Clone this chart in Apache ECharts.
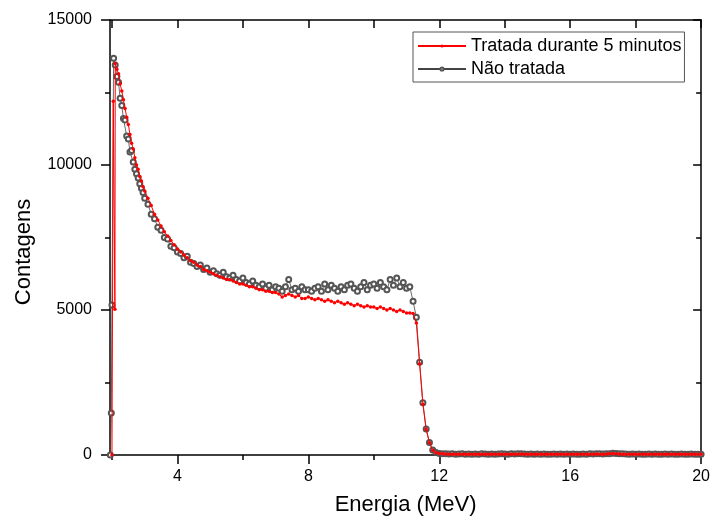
<!DOCTYPE html>
<html><head><meta charset="utf-8">
<script src="https://cdn.jsdelivr.net/npm/echarts@6/dist/echarts.min.js"></script>
<style>html,body{margin:0;padding:0;background:#fff}#c{width:713px;height:525px}</style>
</head><body><div id="c"></div>
<script>
const seriesNames = ['Tratada durante 5 minutos', 'Não tratada'];
const xAxisTitle = 'Energia (MeV)';
const yAxisTitle = 'Contagens';
const xTickLabels = [4, 8, 12, 16, 20];
const xMinorTicks = [2, 6, 10, 14, 18];
const xTopTicks = [2, 4, 6, 8, 10, 12, 14, 16, 18, 20];

// leading edge of each spectrum
const riseEnergyTreated = [2.00, 2.04, 2.09];
const riseCountsTreated = [0, 12200, 5030];
const riseEnergyUntreated = [1.95, 1.98, 2.00, 2.05];
const riseCountsUntreated = [0, 1450, 5170, 13680];

// shared energy grid (MeV)
const energy = [
 2.10,2.15,2.20,2.25,2.30,2.35,2.40,2.45,2.50,2.55,2.60,2.65,2.70,2.75,2.80,2.85,2.90,2.95,3.00,
 3.1,3.2,3.3,3.4,3.5,3.6,3.7,3.8,3.9,
 4.0,4.1,4.2,4.3,4.4,4.5,4.6,4.7,4.8,4.9,
 5.0,5.1,5.2,5.3,5.4,5.5,5.6,5.7,5.8,5.9,
 6.0,6.1,6.2,6.3,6.4,6.5,6.6,6.7,6.8,6.9,
 7.0,7.1,7.2,7.3,7.4,7.5,7.6,7.7,7.8,7.9,
 8.0,8.1,8.2,8.3,8.4,8.5,8.6,8.7,8.8,8.9,
 9.0,9.1,9.2,9.3,9.4,9.5,9.6,9.7,9.8,9.9,
 10.0,10.1,10.2,10.3,10.4,10.5,10.6,10.7,10.8,10.9,
 11.0,11.1,11.2,11.3,11.4,11.5,11.6,11.7,11.8,11.9,
 12.0,12.1,12.2,12.3,12.4,12.5,12.6,12.7,12.8,12.9,
 13.0,13.1,13.2,13.3,13.4,13.5,13.6,13.7,13.8,13.9,
 14.0,14.1,14.2,14.3,14.4,14.5,14.6,14.7,14.8,14.9,
 15.0,15.1,15.2,15.3,15.4,15.5,15.6,15.7,15.8,15.9,
 16.0,16.1,16.2,16.3,16.4,16.5,16.6,16.7,16.8,16.9,
 17.0,17.1,17.2,17.3,17.4,17.5,17.6,17.7,17.8,17.9,
 18.0,18.1,18.2,18.3,18.4,18.5,18.6,18.7,18.8,18.9,
 19.0,19.1,19.2,19.3,19.4,19.5,19.6,19.7,19.8,19.9,20.0
];

const treated = [
 13500,13300,13150,12800,12550,12250,11950,11650,11400,11050,10750,10550,10250,10000,9850,9600,9450,9250,9100,
 8850,8600,8300,8100,7900,7700,7550,7400,7250,
 7100,7000,6900,6800,6700,6650,6550,6500,6400,6350,
 6300,6250,6200,6150,6100,6050,6050,6000,5950,5900,
 5900,5850,5800,5800,5750,5700,5700,5650,5650,5600,
 5600,5550,5450,5500,5550,5500,5450,5500,5400,5400,
 5450,5400,5350,5400,5350,5300,5350,5300,5250,5300,
 5250,5200,5250,5200,5150,5200,5150,5100,5150,5100,
 5100,5050,5100,5050,5000,5050,5000,4950,5000,4950,
 4900,4900,4880,4550,3150,1750,880,420,160,80,
 50,40,35,30,30,25,30,25,30,25,
 25,30,25,30,25,30,25,25,30,25,
 30,25,30,25,30,35,30,25,30,25,
 25,30,25,25,30,25,30,25,25,30,
 25,30,25,25,30,25,30,30,35,30,
 30,35,40,50,45,35,30,30,25,30,
 25,30,25,25,30,25,30,25,25,30,
 25,30,25,25,30,25,25,30,25,25,25
];

const untreated = [
 13450,13050,12850,12300,12050,11600,11550,11000,10900,10450,10500,10100,9850,9700,9550,9350,9200,9050,8850,
 8650,8300,8150,7850,7750,7500,7450,7200,7150,
 7000,6950,6800,6850,6650,6600,6500,6550,6400,6450,
 6300,6350,6250,6200,6300,6150,6100,6200,6050,6000,
 6100,5950,5900,6000,5850,5800,5900,5750,5850,5700,
 5800,5750,5650,5800,6050,5700,5750,5650,5800,5700,
 5700,5650,5750,5800,5650,5900,5700,5850,5750,5650,
 5800,5700,5850,5900,5750,5650,5800,5950,5700,5850,
 5900,5750,5950,5800,5700,6050,5850,6100,5800,5950,
 5750,5800,5300,4750,3200,1800,900,430,170,90,
 55,45,40,35,40,30,35,40,30,35,
 30,35,30,40,35,30,35,30,35,40,
 35,30,40,35,45,40,35,30,35,30,
 35,30,35,30,30,35,30,35,30,35,
 30,35,30,30,35,30,40,35,45,40,
 35,40,45,60,55,45,40,35,30,35,
 30,35,30,30,35,30,35,30,30,35,
 30,35,30,30,35,30,30,35,30,30,30
];

function pairs(e, c) { return e.map((v, i) => [v, c[i]]); }
const treatedData = pairs(riseEnergyTreated, riseCountsTreated).concat(pairs(energy, treated));
const untreatedData = pairs(riseEnergyUntreated, riseCountsUntreated).concat(pairs(energy, untreated));

const FONT = 'Arial, "Liberation Sans", sans-serif';
const X_MIN = 1.94, X_MAX = 20;
const black = {color: '#000', width: 1.5};

const chart = echarts.init(document.getElementById('c'), null, {renderer: 'canvas'});
chart.setOption({
  animation: false,
  backgroundColor: '#fff',
  textStyle: {fontFamily: FONT},
  grid: {left: 110, right: 11, top: 20, bottom: 70, containLabel: false},
  legend: {
    data: seriesNames,
    orient: 'vertical',
    left: 413, top: 32,
    padding: [5, 3, 4, 4],
    itemGap: 5,
    itemWidth: 48, itemHeight: 4,
    borderColor: '#555', borderWidth: 1,
    selectedMode: false,
    textStyle: {fontSize: 18, color: '#000', fontFamily: FONT}
  },
  xAxis: [
    {type: 'value', position: 'bottom', min: X_MIN, max: X_MAX,
     axisLine: {show: true, onZero: false, lineStyle: black},
     axisTick: {show: true, inside: false, length: 9, customValues: xTickLabels, lineStyle: black},
     axisLabel: {show: true, customValues: xTickLabels, fontSize: 16, color: '#000', margin: 14, fontFamily: FONT},
     splitLine: {show: false},
     name: xAxisTitle, nameLocation: 'middle', nameGap: 39,
     nameTextStyle: {fontSize: 22, color: '#000', fontFamily: FONT}},
    {type: 'value', position: 'bottom', min: X_MIN, max: X_MAX,
     axisLine: {show: false, onZero: false},
     axisTick: {show: true, inside: false, length: 5, customValues: xMinorTicks, lineStyle: black},
     axisLabel: {show: false}, splitLine: {show: false}},
    {type: 'value', position: 'top', min: X_MIN, max: X_MAX,
     axisLine: {show: true, onZero: false, lineStyle: black},
     axisTick: {show: true, inside: true, length: 8, customValues: xTopTicks, lineStyle: black},
     axisLabel: {show: false}, splitLine: {show: false}}
  ],
  yAxis: [
    {type: 'value', position: 'left', min: 0, max: 15000, interval: 5000,
     axisLine: {show: true, onZero: false, lineStyle: black},
     axisTick: {show: true, inside: false, length: 9, lineStyle: black},
     minorTick: {show: true, splitNumber: 2, length: 5, lineStyle: black},
     axisLabel: {fontSize: 16, color: '#000', margin: 18, fontFamily: FONT, formatter: v => String(v)},
     splitLine: {show: false}, minorSplitLine: {show: false}},
    {type: 'value', position: 'right', min: 0, max: 15000, interval: 5000,
     axisLine: {show: true, onZero: false, lineStyle: black},
     axisTick: {show: true, inside: true, length: 8, lineStyle: black},
     minorTick: {show: true, splitNumber: 2, length: 5, lineStyle: black},
     axisLabel: {show: false},
     splitLine: {show: false}, minorSplitLine: {show: false}}
  ],
  graphic: [{
    type: 'text', x: 24, y: 252, rotation: Math.PI / 2,
    style: {text: yAxisTitle, fontSize: 22, fill: '#000', fontFamily: FONT, align: 'center', verticalAlign: 'middle'}
  }],
  series: [
    {name: seriesNames[1], type: 'line', xAxisIndex: 0, yAxisIndex: 0, data: untreatedData,
     symbol: 'emptyCircle', symbolSize: 5, showSymbol: true, z: 2,
     lineStyle: {color: '#444', width: 0.8},
     itemStyle: {color: '#555', borderWidth: 0.8},
     emphasis: {disabled: true}},
    {name: seriesNames[0], type: 'line', xAxisIndex: 0, yAxisIndex: 0, data: treatedData,
     symbol: 'circle', symbolSize: 3.5, showSymbol: true, z: 3,
     lineStyle: {color: '#ff0000', width: 1},
     itemStyle: {color: '#ff0000'},
     emphasis: {disabled: true}}
  ]
});
</script></body></html>
